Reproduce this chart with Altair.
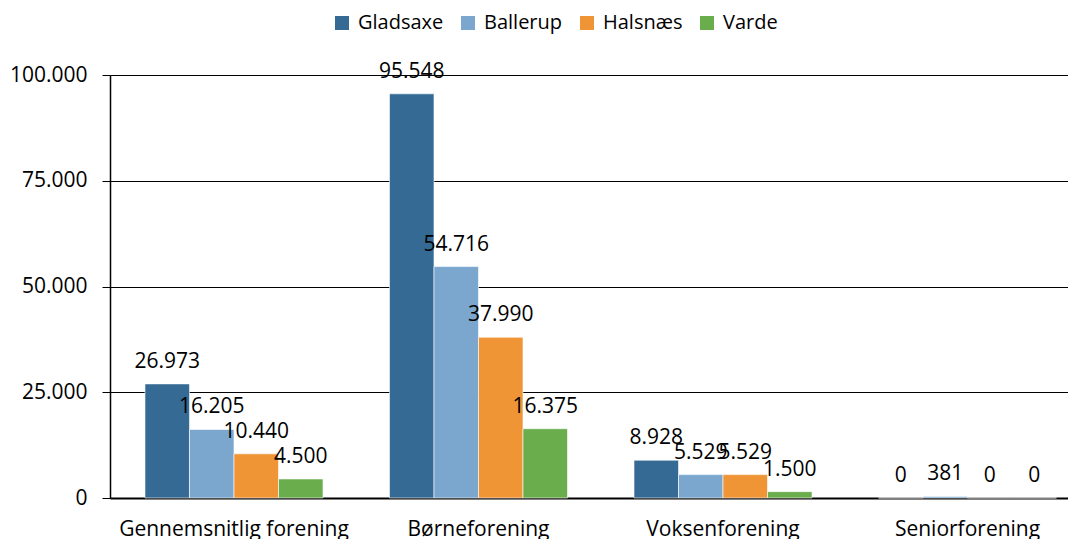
import altair as alt
import pandas as pd

categories = ["Gennemsnitlig forening", "Børneforening", "Voksenforening", "Seniorforening"]
series = ["Gladsaxe", "Ballerup", "Halsnæs", "Varde"]
gladsaxe = [26973, 95548, 8928, 0]
ballerup = [16205, 54716, 5529, 381]
halsnaes = [10440, 37990, 5529, 0]
varde = [4500, 16375, 1500, 0]
colors = ["#346A94", "#7BA7CF", "#EF9536", "#69AD4C"]
y_ticks = [0, 25000, 50000, 75000, 100000]

values = {"Gladsaxe": gladsaxe, "Ballerup": ballerup, "Halsnæs": halsnaes, "Varde": varde}
rows = []
for s in series:
    for c, v in zip(categories, values[s]):
        rows.append({"Kategori": c, "Kommune": s, "Antal": v,
                     "Label": f"{v:,}".replace(",", ".")})
df = pd.DataFrame(rows)

FONT = "Open Sans"

x = alt.X("Kategori:N", sort=categories, title=None,
          scale=alt.Scale(paddingInner=0.272, paddingOuter=0.095, align=0.753),
          axis=alt.Axis(labelAngle=0, ticks=False, domainColor="black", domainWidth=2,
                        labelFont=FONT, labelFontSize=21, labelColor="black",
                        labelPadding=20, labelLimit=0, grid=False))
y = alt.Y("Antal:Q", title=None,
          scale=alt.Scale(domain=[0, 100000], nice=False),
          axis=alt.Axis(values=y_ticks, grid=True, gridColor="black", gridWidth=1,
                        domainColor="black", domainWidth=1.5, tickColor="black",
                        tickSize=8, labelFont=FONT, labelFontSize=21, labelColor="black",
                        labelPadding=15,
                        labelExpr="replace(format(datum.value, ','), regexp(',', 'g'), '.')"))
color = alt.Color("Kommune:N", sort=series,
                  scale=alt.Scale(domain=series, range=colors),
                  legend=alt.Legend(title=None, orient="none", direction="horizontal",
                                    legendX=222, legendY=-62, symbolType="square",
                                    symbolSize=196, symbolStrokeWidth=0, labelOffset=6,
                                    columnPadding=14, labelFont=FONT, labelFontSize=20,
                                    labelColor="black"))

bars = alt.Chart(df).mark_bar(stroke="white", strokeWidth=0.6).encode(
    x=x, y=y, color=color,
    xOffset=alt.XOffset("Kommune:N", sort=series),
)
text = alt.Chart(df).mark_text(baseline="bottom", dy=-12, font=FONT, fontSize=21,
                               color="black").encode(
    x=x, y=y,
    xOffset=alt.XOffset("Kommune:N", sort=series),
    text="Label:N",
)

chart = alt.layer(bars, text).properties(
    width=958, height=423,
    autosize=alt.AutoSizeParams(type="none"),
    padding={"left": 102, "top": 67, "right": 0, "bottom": 41},
).configure_view(stroke=None).configure(background="white")

chart.save("out.html", embed_options={"renderer": "svg", "actions": False})
